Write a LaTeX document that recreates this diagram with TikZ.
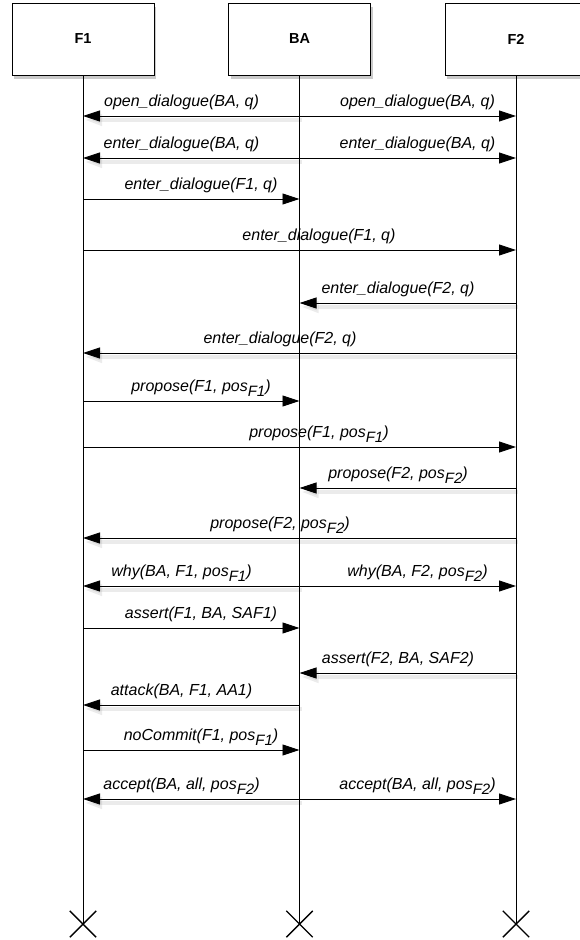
\documentclass[tikz,border=0pt]{standalone}
\usepackage{fontspec}
\setmainfont{Liberation Sans}
\usetikzlibrary{arrows.meta,shapes.misc,shadows}

\tikzset{
  actor/.style={draw, line width=0.9pt, fill=white, minimum width=142pt, minimum height=72pt,
    font=\fontsize{14.5}{16}\selectfont\bfseries,
    drop shadow={opacity=0.35, shadow xshift=2pt, shadow yshift=-4pt, fill=black!60}},
  stopmark/.style={draw, cross out, minimum size=25pt, inner sep=0pt, line width=1.4pt},
  lifeline/.style={line width=0.8pt},
  msg/.style={line width=0.9pt, -{Triangle[length=17pt,width=11pt]}},
  backmsg/.style={msg, preaction={draw=black, opacity=0.08, line width=4pt,
    transform canvas={shift={(2pt,-4pt)}}}},
  lbl/.style={pos=0.545, anchor=base, yshift=9.5pt, inner sep=0pt,
    font=\fontsize{16}{18}\selectfont\itshape},
}
\newcommand{\lowsub}[1]{\raisebox{-5pt}{\fontsize{15}{16}\selectfont #1}}

\begin{document}
\begin{tikzpicture}[x=1pt, y=-1pt]
\useasboundingbox (0,0) rectangle (579,940);

% actors
\node[actor] (F1) at (83,39) {F1};
\node[actor] (BA) at (299.5,39) {BA};
\node[actor] (F2) at (516,39) {F2};

% lifelines
\node[stopmark] (F1end) at (83,924) {};
\node[stopmark] (BAend) at (299.5,924) {};
\node[stopmark] (F2end) at (516,924) {};
\draw[lifeline] (F1) -- (F1end.center);
\draw[lifeline] (BA) -- (BAend.center);
\draw[lifeline] (F2) -- (F2end.center);

% message rows
\foreach \n/\y in {1/116, 2/158, 3/199, 4/250, 5/303, 6/353, 7/401, 8/447,
                   9/488, 10/538, 11/586, 12/628, 13/673, 14/705, 15/750, 16/799} {
  \coordinate (F1-\n) at (F1 |- 0,\y);
  \coordinate (BA-\n) at (BA |- 0,\y);
  \coordinate (F2-\n) at (F2 |- 0,\y);
}

\draw[backmsg] (BA-1) -- node[lbl] {open\_dialogue(BA, q)} (F1-1);
\draw[msg] (BA-1) -- node[lbl] {open\_dialogue(BA, q)} (F2-1);
\draw[backmsg] (BA-2) -- node[lbl] {enter\_dialogue(BA, q)} (F1-2);
\draw[msg] (BA-2) -- node[lbl] {enter\_dialogue(BA, q)} (F2-2);
\draw[msg] (F1-3) -- node[lbl] {enter\_dialogue(F1, q)} (BA-3);
\draw[msg] (F1-4) -- node[lbl] {enter\_dialogue(F1, q)} (F2-4);
\draw[backmsg] (F2-5) -- node[lbl] {enter\_dialogue(F2, q)} (BA-5);
\draw[backmsg] (F2-6) -- node[lbl] {enter\_dialogue(F2, q)} (F1-6);
\draw[msg] (F1-7) -- node[lbl] {propose(F1, pos\lowsub{F1})} (BA-7);
\draw[msg] (F1-8) -- node[lbl] {propose(F1, pos\lowsub{F1})} (F2-8);
\draw[backmsg] (F2-9) -- node[lbl] {propose(F2, pos\lowsub{F2})} (BA-9);
\draw[backmsg] (F2-10) -- node[lbl] {propose(F2, pos\lowsub{F2})} (F1-10);
\draw[backmsg] (BA-11) -- node[lbl] {why(BA, F1, pos\lowsub{F1})} (F1-11);
\draw[msg] (BA-11) -- node[lbl] {why(BA, F2, pos\lowsub{F2})} (F2-11);
\draw[msg] (F1-12) -- node[lbl] {assert(F1, BA, SAF1)} (BA-12);
\draw[backmsg] (F2-13) -- node[lbl] {assert(F2, BA, SAF2)} (BA-13);
\draw[backmsg] (BA-14) -- node[lbl] {attack(BA, F1, AA1)} (F1-14);
\draw[msg] (F1-15) -- node[lbl] {noCommit(F1, pos\lowsub{F1})} (BA-15);
\draw[backmsg] (BA-16) -- node[lbl] {accept(BA, all, pos\lowsub{F2})} (F1-16);
\draw[msg] (BA-16) -- node[lbl] {accept(BA, all, pos\lowsub{F2})} (F2-16);
\end{tikzpicture}
\end{document}
